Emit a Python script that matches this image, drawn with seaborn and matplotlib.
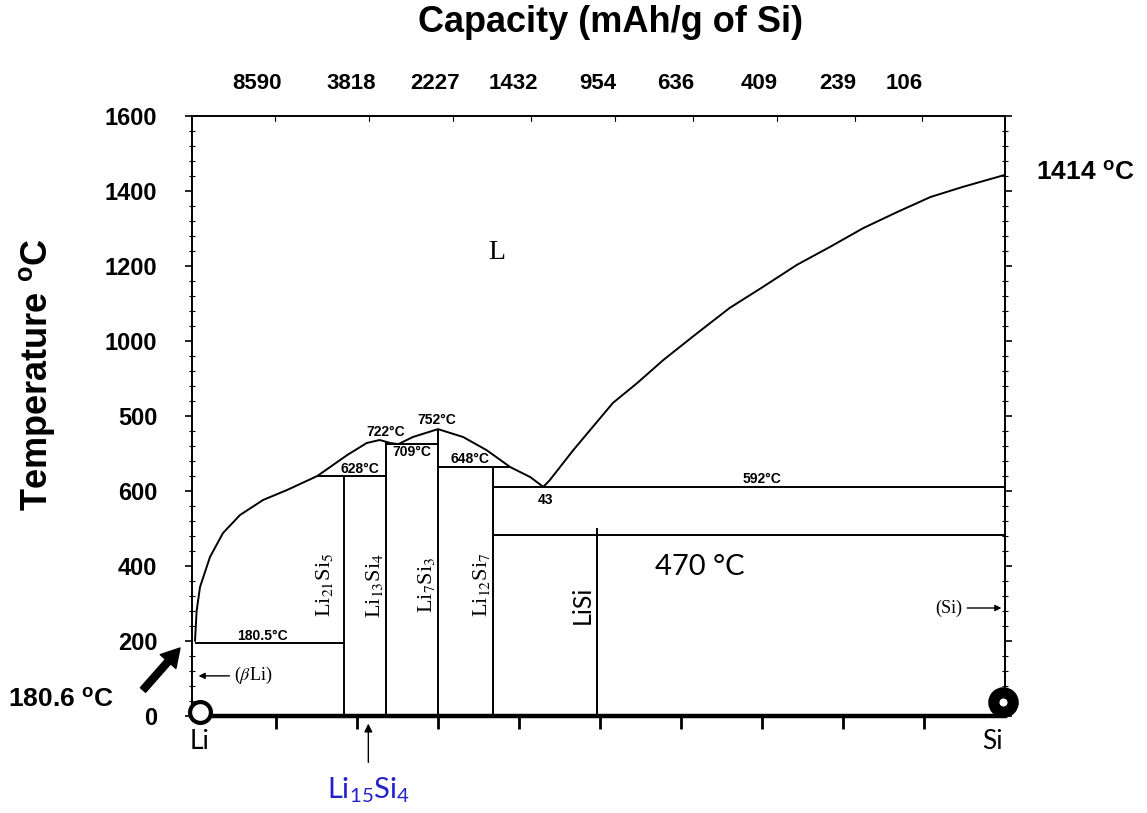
import matplotlib
matplotlib.use("Agg")
import matplotlib.pyplot as plt
import seaborn as sns
import numpy as np

# ---- Li–Si phase diagram data (composition in at.% Si, temperature on axis scale) ----
# Liquidus on the Li-rich side, over the compound domes down to the 43 at.% eutectic
liq_left_x = [0.0, 0.2, 0.62, 1.85, 3.46, 5.56, 8.4, 11.4, 15.1, 18.8, 21.2, 22.8,
              24.1, 25.1, 26.9, 30.0, 33.1, 36.0, 38.9, 41.4, 43.0]
liq_left_t = [200, 280, 344, 424, 488, 536, 576, 603, 640, 696, 728, 736,
              728, 725, 744, 765, 744, 709, 664, 637, 611]

# Liquidus on the Si-rich side, from the eutectic up to the Si melting point
liq_right_x = [43.0, 43.8, 46.7, 48.8, 51.6, 54.6, 57.8, 62.0, 66.0, 70.1,
               74.3, 78.4, 82.5, 86.7, 90.8, 94.8, 100.0]
liq_right_t = [611, 629, 709, 763, 835, 888, 949, 1021, 1088, 1144,
               1203, 1251, 1301, 1344, 1384, 1411, 1443]

# Horizontal invariant lines
iso_t = [195, 640, 725, 664, 611, 483]
iso_x0 = [0.0, 15.1, 23.6, 30.0, 36.8, 36.8]
iso_x1 = [18.4, 23.6, 30.0, 38.9, 100.0, 100.0]

# Line compounds
comp_x = [18.4, 23.6, 30.0, 36.8, 49.6]
comp_top = [640, 733, 765, 664, 501]
comp_serif_labels = [r"Li$_{21}$Si$_{5}$", r"Li$_{13}$Si$_{4}$", r"Li$_{7}$Si$_{3}$",
                     r"Li$_{12}$Si$_{7}$"]
comp_label_x = [16.0, 22.2, 28.6, 35.4]

# Temperature annotations inside the diagram
temp_labels = ["722°C", "752°C", "709°C", "628°C", "648°C", "43", "592°C", "180.5°C"]
temp_label_x = [23.5, 29.9, 26.8, 20.4, 34.0, 43.3, 70.0, 8.3]
temp_label_t = [757, 789, 704, 659, 685, 576, 632, 213]

# Axes ticks
y_ticks = [0, 200, 400, 600, 800, 1000, 1200, 1400, 1600]
y_tick_labels = ["0", "200", "400", "600", "500", "1000", "1200", "1400", "1600"]
x_ticks = [10, 20, 30, 40, 50, 60, 70, 80, 90]

# Capacity scale along the top
cap_labels = ["8590", "3818", "2227", "1432", "954", "636", "409", "239", "106"]
cap_x = [7.7, 19.3, 29.6, 39.3, 49.7, 59.3, 69.6, 79.3, 87.6]

# ---- styling ----
sns.set_theme(style="white")
plt.rcParams.update({
    "font.family": ["Liberation Sans", "DejaVu Sans"],
    "text.color": "black",
    "axes.labelcolor": "black",
    "xtick.color": "black",
    "ytick.color": "black",
    "mathtext.fontset": "custom",
    "mathtext.rm": "Lato",
    "mathtext.it": "Lato:italic",
    "mathtext.bf": "Liberation Sans:bold",
})

W, H = 1147, 813
fig = plt.figure(figsize=(W / 100, H / 100), dpi=100)
fig.patch.set_facecolor("white")
ax = fig.add_axes([192 / W, 1 - 716 / H, (1005 - 192) / W, 600 / H])
ax.set_facecolor("white")

lw = 1.4
sns.lineplot(x=liq_left_x, y=liq_left_t, sort=False, estimator=None,
             color="black", linewidth=lw, ax=ax)
sns.lineplot(x=liq_right_x, y=liq_right_t, sort=False, estimator=None,
             color="black", linewidth=lw, ax=ax)
ax.hlines(iso_t, iso_x0, iso_x1, color="black", linewidth=lw)
ax.vlines(comp_x, 0, comp_top, color="black", linewidth=lw)

ax.set_xlim(-0.37, 100)
ax.set_ylim(0, 1600)

# spines and ticks
for side in ["left", "right", "top"]:
    ax.spines[side].set_visible(True)
    ax.spines[side].set_color("black")
    ax.spines[side].set_linewidth(1.4)
ax.spines["bottom"].set_color("black")
ax.spines["bottom"].set_linewidth(3.2)

ax.set_yticks(y_ticks)
ax.set_yticklabels(y_tick_labels, fontsize=17, fontweight="bold", color="black")
ax.set_yticks(np.arange(0, 1601, 40), minor=True)
ax.tick_params(axis="y", which="major", direction="out", length=5, width=1.2,
               pad=20, left=True, right=True, color="black", labelcolor="black")
ax.tick_params(axis="y", which="minor", direction="inout", length=4, width=0.8,
               left=True, right=True, color="black")
ax.set_xticks(x_ticks)
ax.set_xticklabels([])
ax.tick_params(axis="x", which="major", direction="out", length=9, width=2,
               bottom=True, top=False, color="black")
ax.set_xlabel("")
ax.set_ylabel("")

# top capacity scale
for lab, xv in zip(cap_labels, cap_x):
    ax.text(xv, 1688, lab, ha="center", va="center", fontsize=16, fontweight="bold",
            family=["Liberation Sans Narrow", "Liberation Sans"], color="black",
            clip_on=False)
    ax.plot([xv + 2.2, xv + 2.2], [1600, 1588], color="black", lw=0.8)

fig.text(610 / W, 1 - 22 / H, "Capacity (mAh/g of Si)", ha="center", va="center",
         fontsize=26, fontweight="bold", color="black")
fig.text(38 / W, 1 - 375 / H, r"Temperature $^{\mathbf{o}}$C", ha="center",
         va="center", rotation=90, fontsize=26, fontweight="bold", color="black")
fig.text(1085 / W, 1 - 173 / H, r"1414 $^{\mathbf{o}}$C", ha="center", va="center",
         fontsize=19, fontweight="bold", color="black")
fig.text(8 / W, 1 - 700 / H, r"180.6 $^{\mathbf{o}}$C", ha="left", va="center",
         fontsize=19, fontweight="bold", color="black")

# phase labels
ax.text(37.3, 1235, "L", ha="center", va="center", fontsize=20,
        family="Liberation Serif", color="black")
for lab, xv, tv in zip(temp_labels, temp_label_x, temp_label_t):
    ax.text(xv, tv, lab, ha="center", va="center", fontsize=10, fontweight="bold",
            color="black")
for lab, xv in zip(comp_serif_labels, comp_label_x):
    ax.text(xv, 349, lab, ha="center", va="center", rotation=90, fontsize=16,
            family="Liberation Serif", math_fontfamily="stix", color="black")
ax.text(47.8, 296, "LiSi", ha="center", va="center", rotation=90, fontsize=18,
        family="Lato", color="black")
ax.text(62.3, 397, "470 °C", ha="center", va="center", fontsize=21, family="Lato",
        color="black")

# single-phase field arrows
ax.annotate("", xy=(0.1, 107), xytext=(4.6, 107),
            arrowprops=dict(arrowstyle="-|>", color="black", lw=1, mutation_scale=9))
ax.text(4.8, 107, r"($\beta$Li)", ha="left", va="center", fontsize=13,
        family="Liberation Serif", math_fontfamily="stix", color="black")
ax.annotate("", xy=(99.9, 288), xytext=(95.0, 288),
            arrowprops=dict(arrowstyle="-|>", color="black", lw=1, mutation_scale=9))
ax.text(94.7, 288, "(Si)", ha="right", va="center", fontsize=13,
        family="Liberation Serif", color="black")

# end members
ax.plot([0.6], [11], marker="o", ms=15, mfc="white", mec="black", mew=3,
        clip_on=False, zorder=5)
ax.plot([99.75], [37], marker="o", ms=14, mfc="white", mec="black", mew=8,
        clip_on=False, zorder=5)
ax.text(0.6, -69, "Li", ha="center", va="center", fontsize=19, family="Lato",
        color="black")
ax.text(98.4, -69, "Si", ha="center", va="center", fontsize=19, family="Lato",
        color="black")

# Li15Si4 marker below the axis
ax.annotate("", xy=(21.4, -13), xytext=(21.4, -131), annotation_clip=False,
            arrowprops=dict(arrowstyle="-|>", color="black", lw=1, mutation_scale=12))
ax.text(21.4, -197, r"Li$_{15}$Si$_{4}$", ha="center", va="center", fontsize=21,
        family="Lato", color="#2222cc", clip_on=False)

# bold arrow pointing at the low-temperature melting point
ax.annotate("", xy=(180, H - 648), xytext=(143, H - 690), xycoords="figure pixels",
            textcoords="figure pixels", annotation_clip=False,
            arrowprops=dict(facecolor="black", edgecolor="black", width=5,
                            headwidth=15, headlength=13, shrink=0))

fig.savefig("out.png", dpi=100, facecolor="white")
